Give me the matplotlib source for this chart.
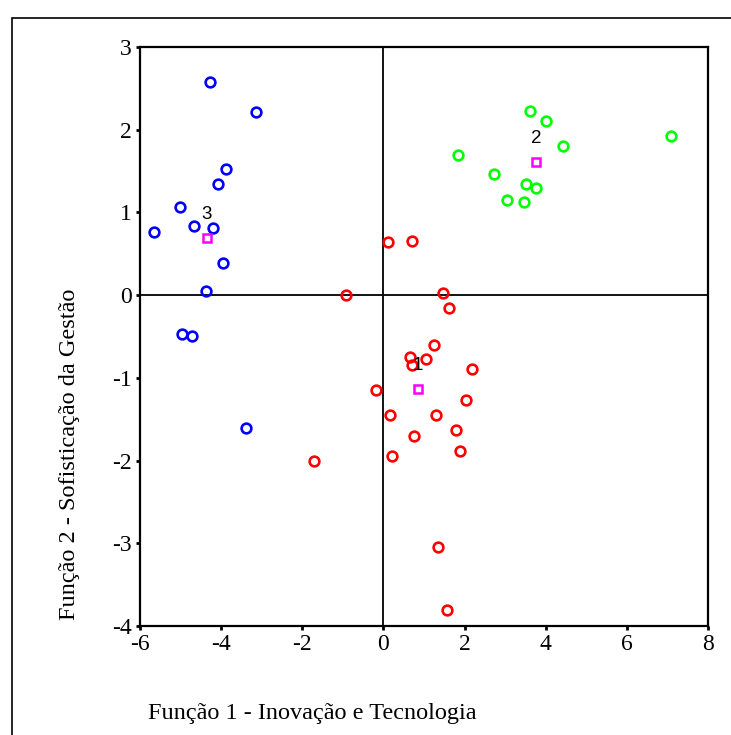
import matplotlib
matplotlib.use('Agg')
import matplotlib.pyplot as plt
from matplotlib.patches import Rectangle

# grupo 1 (vermelho)
g1_x = [-0.93, 1.48, 1.62, 1.25, 0.65, 1.05, 0.70, 2.18, -0.18, 2.04, 0.16, 1.29,
        1.79, 0.76, 1.89, 0.21, -1.70, 1.35, 1.56, 0.12, 0.70]
g1_y = [0.00, 0.02, -0.16, -0.60, -0.75, -0.77, -0.85, -0.89, -1.15, -1.27, -1.45, -1.45,
        -1.63, -1.70, -1.88, -1.94, -2.01, -3.04, -3.81, 0.64, 0.65]
# grupo 2 (verde)
g2_x = [3.62, 4.00, 4.43, 1.84, 7.09, 2.73, 3.51, 3.76, 3.05, 3.46]
g2_y = [2.23, 2.11, 1.80, 1.69, 1.93, 1.46, 1.34, 1.30, 1.15, 1.13]
# grupo 3 (azul)
g3_x = [-4.27, -3.14, -3.87, -4.07, -5.01, -4.68, -4.21, -5.65, -3.96, -4.38, -4.96, -4.72, -3.38]
g3_y = [2.58, 2.21, 1.53, 1.34, 1.07, 0.83, 0.81, 0.76, 0.39, 0.05, -0.47, -0.49, -1.61]

# centroides
cent_x = [0.85, 3.76, -4.35]
cent_y = [-1.14, 1.61, 0.69]
cent_lbl = ['1', '2', '3']

xticks = [-6, -4, -2, 0, 2, 4, 6, 8]
yticks = [-4, -3, -2, -1, 0, 1, 2, 3]

serif = ['Liberation Serif', 'DejaVu Serif']
sans = ['Liberation Sans', 'DejaVu Sans']

fig = plt.figure(figsize=(7.31, 7.35), dpi=100)
ax = fig.add_axes([140 / 731, 109 / 735, 568 / 731, 579 / 735])

mk = dict(marker='o', ms=7, mew=1.9, mfc='none', ls='none', zorder=3)
ax.plot(g1_x, g1_y, mec='#ff0000', **mk)
ax.plot(g2_x, g2_y, mec='#00ff00', **mk)
ax.plot(g3_x, g3_y, mec='#0000ff', **mk)
ax.plot(cent_x, cent_y, marker='s', ms=6, mew=1.8, mfc='none', ls='none',
        mec='#ff00ff', zorder=4)
for cx, cy, lb in zip(cent_x, cent_y, cent_lbl):
    ax.annotate(lb, (cx, cy), xytext=(0, 17), textcoords='offset points',
                ha='center', va='center', fontsize=13.5, family=sans, zorder=5)

ax.axhline(0, color='black', lw=1.3, zorder=1)
ax.axvline(0, color='black', lw=1.3, zorder=1)

ax.set_xlim(-6, 8)
ax.set_ylim(-4, 3)
ax.set_xticks(xticks)
ax.set_yticks(yticks)
ax.set_xticklabels([str(t) for t in xticks], family=serif, fontsize=17)
ax.set_yticklabels([str(t) for t in yticks], family=serif, fontsize=17)
ax.tick_params(direction='out', length=3, width=2, pad=3)
for s in ax.spines.values():
    s.set_linewidth(1.6)

fig.text(148 / 731, 1 - 714 / 735, 'Função 1 - Inovação e Tecnologia',
         family=serif, fontsize=17.5, ha='left', va='center')
fig.text(70 / 731, 1 - 454 / 735, 'Função 2 - Sofisticação da Gestão',
         family=serif, fontsize=17.5, ha='center', va='center', rotation=90)

# moldura externa
fig.patches.append(Rectangle((12 / 731, -0.1), 1.2, 0.1 + (735 - 18) / 735,
                             transform=fig.transFigure, fill=False,
                             lw=1.2, ec='black'))

plt.savefig('out.png', dpi=100)
